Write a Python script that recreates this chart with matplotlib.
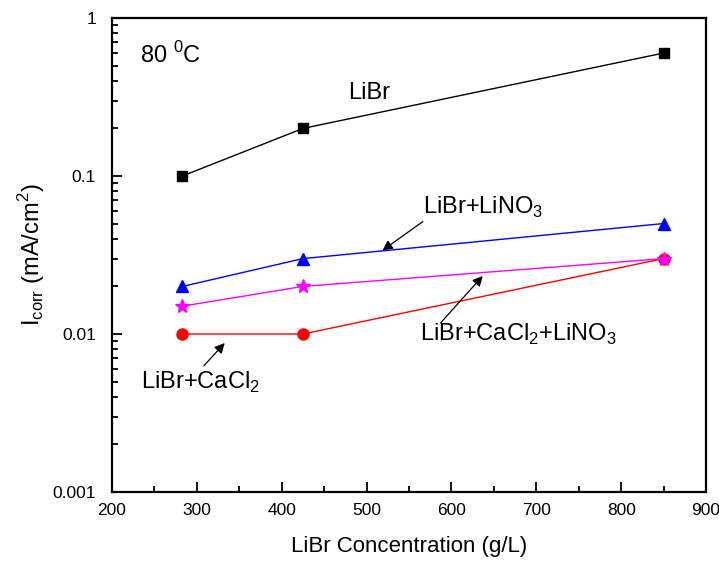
import numpy as np
import matplotlib
matplotlib.use("Agg")
import matplotlib.pyplot as plt
from matplotlib.ticker import LogLocator, NullFormatter, FixedLocator, FuncFormatter

plt.rcParams['font.family'] = ['Liberation Sans', 'DejaVu Sans']

# Datos
conc = [283, 425, 850]
libr = [0.1, 0.2, 0.6]
libr_lino3 = [0.02, 0.03, 0.05]
libr_cacl2 = [0.01, 0.01, 0.03]
libr_cacl2_lino3 = [0.015, 0.02, 0.03]

fig = plt.figure(figsize=(7.19, 5.62), dpi=100)
ax = fig.add_axes([0.1558, 0.1246, 0.8262, 0.8434])

ax.plot(conc, libr, color='black', marker='s', markersize=7, lw=1)
ax.plot(conc, libr_lino3, color='blue', marker='^', markersize=9, lw=1)
ax.plot(conc, libr_cacl2, color='red', marker='o', markersize=8, lw=1)
ax.plot(conc, libr_cacl2_lino3, color='magenta', marker='*', markersize=10, lw=1)

ax.set_yscale('log')
ax.set_xlim(200, 900)
ax.set_ylim(0.001, 1)

ax.xaxis.set_major_locator(FixedLocator(np.arange(200, 901, 100)))
ax.xaxis.set_minor_locator(FixedLocator(np.arange(250, 900, 100)))
ax.yaxis.set_major_locator(LogLocator(base=10, numticks=10))
ax.yaxis.set_minor_locator(LogLocator(base=10, subs=np.arange(2, 10), numticks=20))
ax.yaxis.set_minor_formatter(NullFormatter())
ax.yaxis.set_major_formatter(FuncFormatter(lambda v, p: f"{v:g}"))

ax.tick_params(which='both', direction='in', top=False, right=False, labelsize=12.5, width=1.3)
ax.tick_params(which='major', length=7)
ax.tick_params(which='minor', length=4)
ax.tick_params(axis='x', pad=8)
ax.tick_params(axis='y', pad=11.5)
for s in ax.spines.values():
    s.set_linewidth(1.6)

ax.set_xlabel("LiBr Concentration (g/L)", fontsize=16, labelpad=13)
ax.set_ylabel(r"I$_{\mathregular{corr}}$ (mA/cm$^{\mathregular{2}}$)", fontsize=17, labelpad=4)

# Textos y flechas
ax.text(233, 0.58, r"80 $^{\mathregular{0}}$C", fontsize=17, va='center')
ax.text(478, 0.335, "LiBr", fontsize=17, va='center')
ax.text(566, 0.0637, r"LiBr+LiNO$_{\mathregular{3}}$", fontsize=17, va='center')
ax.text(563, 0.0099, r"LiBr+CaCl$_{\mathregular{2}}$+LiNO$_{\mathregular{3}}$", fontsize=17, va='center')
ax.text(234, 0.00497, r"LiBr+CaCl$_{\mathregular{2}}$", fontsize=17, va='center')

flecha = dict(arrowstyle='-|>', color='black', lw=0.9, mutation_scale=15)
ax.annotate('', xy=(516, 0.033), xytext=(569, 0.0527), arrowprops=flecha)
ax.annotate('', xy=(639, 0.024), xytext=(585, 0.0114), arrowprops=flecha)
ax.annotate('', xy=(335, 0.00903), xytext=(306, 0.0061), arrowprops=flecha)

fig.savefig("out.png", dpi=100)
